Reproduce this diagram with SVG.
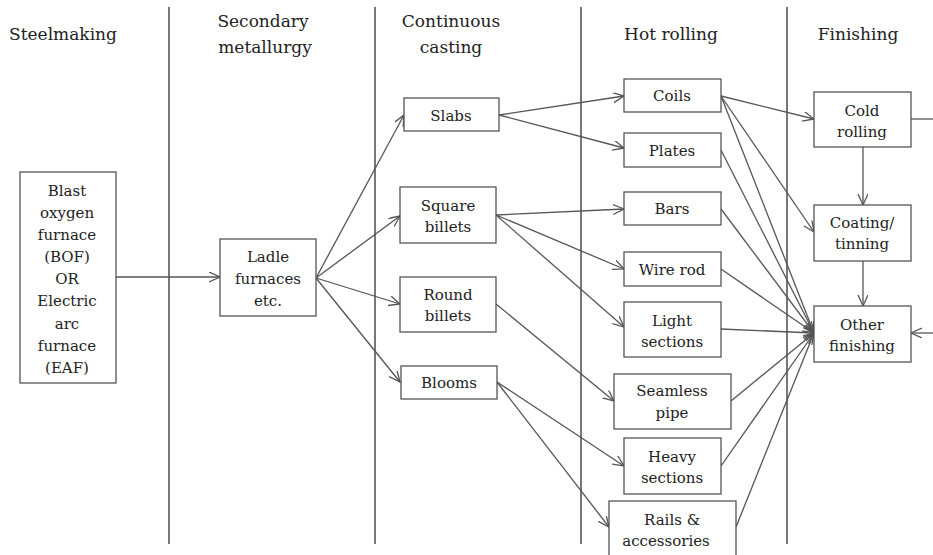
<svg xmlns="http://www.w3.org/2000/svg" width="933" height="555" viewBox="0 0 933 555">
<defs>
<marker id="ah" markerUnits="userSpaceOnUse" markerWidth="14" markerHeight="12" refX="11" refY="5" orient="auto" viewBox="0 0 14 12">
<path d="M0,0 L11,5 L0,10" fill="none" stroke="#555" stroke-width="1.3"/>
</marker>
</defs>
<style>
text{fill:#222;text-anchor:middle;font-family:"DejaVu Serif","Liberation Serif",serif}
.h{font-size:17px}
.t{font-size:15px}
rect{fill:#fff;stroke:#555;stroke-width:1.3}
.sep{stroke:#555;stroke-width:1.6}
#connectors line{stroke:#555;stroke-width:1.3;fill:none}
#connectors .a{marker-end:url(#ah)}
</style>
<rect x="0" y="0" width="933" height="555" style="fill:#fff;stroke:none"/>
<g id="columns">
<line class="sep" x1="169" y1="7" x2="169" y2="544"/>
<line class="sep" x1="375" y1="7" x2="375" y2="544"/>
<line class="sep" x1="581" y1="7" x2="581" y2="544"/>
<line class="sep" x1="787" y1="7" x2="787" y2="544"/>
<text class="h" x="63" y="40">Steelmaking</text>
<text class="h" x="263" y="27">Secondary</text>
<text class="h" x="265" y="53">metallurgy</text>
<text class="h" x="451" y="27">Continuous</text>
<text class="h" x="451" y="53">casting</text>
<text class="h" x="671" y="40">Hot rolling</text>
<text class="h" x="858" y="40">Finishing</text>
</g>
<g id="connectors">
<line class="a" x1="116" y1="277" x2="220" y2="277"/>
<line class="a" x1="316" y1="278" x2="404" y2="115"/>
<line class="a" x1="316" y1="278" x2="400" y2="216"/>
<line class="a" x1="316" y1="278" x2="400" y2="304"/>
<line class="a" x1="316" y1="278" x2="400" y2="382"/>
<line class="a" x1="499" y1="115" x2="624" y2="96"/>
<line class="a" x1="499" y1="115" x2="624" y2="148"/>
<line class="a" x1="496" y1="215" x2="624" y2="209"/>
<line class="a" x1="496" y1="215" x2="624" y2="269"/>
<line class="a" x1="496" y1="215" x2="624" y2="327"/>
<line class="a" x1="496" y1="304" x2="614" y2="401"/>
<line class="a" x1="497" y1="382" x2="624" y2="466"/>
<line class="a" x1="497" y1="382" x2="609" y2="527"/>
<line class="a" x1="721" y1="96" x2="814" y2="119"/>
<line class="a" x1="721" y1="96" x2="814" y2="232"/>
<line class="a" x1="721" y1="96" x2="814" y2="333"/>
<line class="a" x1="721" y1="150" x2="814" y2="333"/>
<line class="a" x1="721" y1="209" x2="814" y2="333"/>
<line class="a" x1="721" y1="269" x2="814" y2="333"/>
<line class="a" x1="721" y1="329" x2="814" y2="333"/>
<line class="a" x1="731" y1="401" x2="814" y2="333"/>
<line class="a" x1="721" y1="466" x2="814" y2="333"/>
<line class="a" x1="736" y1="527" x2="814" y2="333"/>
<line class="a" x1="863" y1="147" x2="863" y2="205"/>
<line class="a" x1="863" y1="261" x2="863" y2="306"/>
<line x1="911" y1="119" x2="933" y2="119"/>
<line class="a" x1="933" y1="333" x2="911" y2="333"/>
</g>
<g id="bof">
<rect x="20" y="172" width="96" height="211"/>
<text class="t" x="67" y="196">Blast</text>
<text class="t" x="67" y="218">oxygen</text>
<text class="t" x="67" y="240">furnace</text>
<text class="t" x="67" y="262">(BOF)</text>
<text class="t" x="67" y="284">OR</text>
<text class="t" x="67" y="306">Electric</text>
<text class="t" x="67" y="329">arc</text>
<text class="t" x="67" y="351">furnace</text>
<text class="t" x="67" y="373">(EAF)</text>
</g>
<g id="ladle">
<rect x="220" y="239" width="96" height="77"/>
<text class="t" x="268" y="262">Ladle</text>
<text class="t" x="268" y="284">furnaces</text>
<text class="t" x="268" y="306">etc.</text>
</g>
<g id="slabs">
<rect x="404" y="98" width="95" height="33"/>
<text class="t" x="451" y="121">Slabs</text>
</g>
<g id="square">
<rect x="400" y="187" width="96" height="56"/>
<text class="t" x="448" y="211">Square</text>
<text class="t" x="448" y="232">billets</text>
</g>
<g id="round">
<rect x="400" y="277" width="96" height="55"/>
<text class="t" x="448" y="300">Round</text>
<text class="t" x="448" y="321">billets</text>
</g>
<g id="blooms">
<rect x="401" y="366" width="96" height="33"/>
<text class="t" x="449" y="388">Blooms</text>
</g>
<g id="coils">
<rect x="624" y="79" width="97" height="33"/>
<text class="t" x="672" y="101">Coils</text>
</g>
<g id="plates">
<rect x="624" y="133" width="97" height="34"/>
<text class="t" x="672" y="156">Plates</text>
</g>
<g id="bars">
<rect x="624" y="192" width="97" height="33"/>
<text class="t" x="672" y="214">Bars</text>
</g>
<g id="wirerod">
<rect x="624" y="252" width="97" height="34"/>
<text class="t" x="672" y="275">Wire rod</text>
</g>
<g id="light">
<rect x="624" y="302" width="97" height="55"/>
<text class="t" x="672" y="326">Light</text>
<text class="t" x="672" y="347">sections</text>
</g>
<g id="seamless">
<rect x="614" y="374" width="117" height="55"/>
<text class="t" x="672" y="396">Seamless</text>
<text class="t" x="672" y="418">pipe</text>
</g>
<g id="heavy">
<rect x="624" y="438" width="97" height="56"/>
<text class="t" x="672" y="462">Heavy</text>
<text class="t" x="672" y="483">sections</text>
</g>
<g id="rails">
<rect x="609" y="501" width="127" height="62"/>
<text class="t" x="672" y="525">Rails &amp;</text>
<text class="t" x="666" y="546">accessories</text>
</g>
<g id="cold">
<rect x="814" y="92" width="97" height="55"/>
<text class="t" x="862" y="116">Cold</text>
<text class="t" x="862" y="137">rolling</text>
</g>
<g id="coating">
<rect x="814" y="205" width="97" height="56"/>
<text class="t" x="862" y="228">Coating/</text>
<text class="t" x="862" y="249">tinning</text>
</g>
<g id="other">
<rect x="814" y="306" width="97" height="56"/>
<text class="t" x="862" y="330">Other</text>
<text class="t" x="862" y="351">finishing</text>
</g>
</svg>
